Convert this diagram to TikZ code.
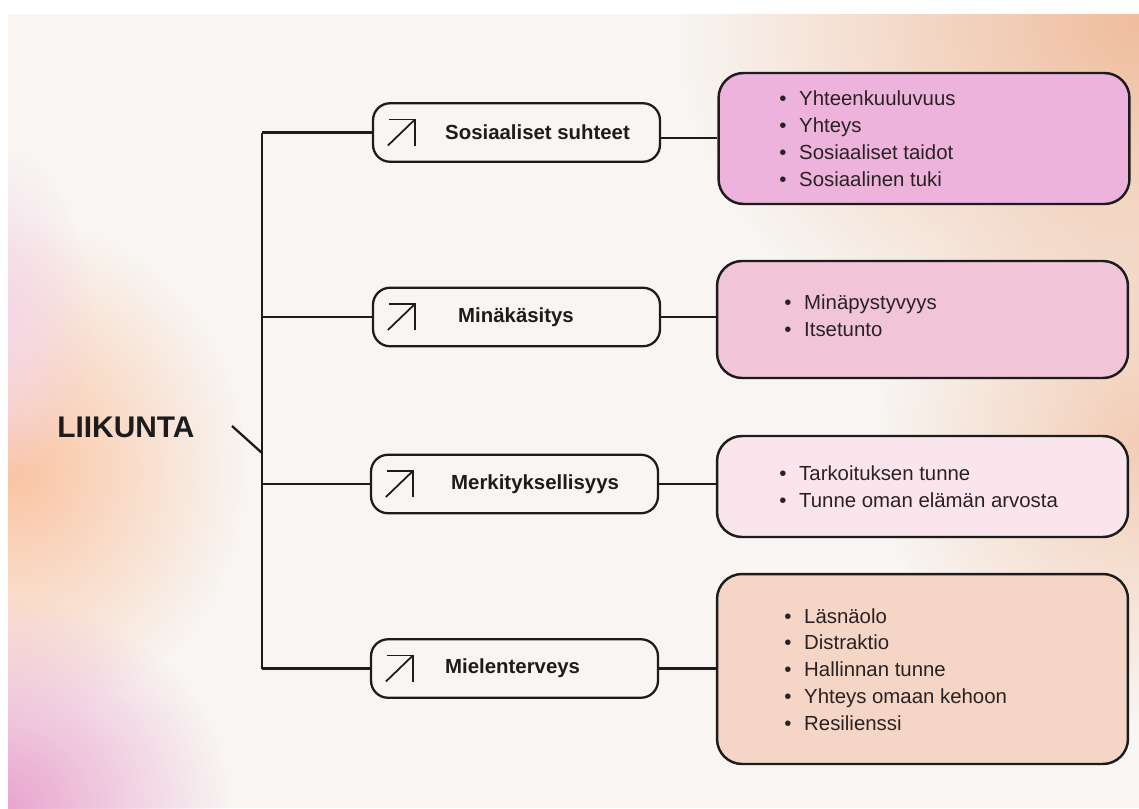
\documentclass[tikz,border=0pt]{standalone}
\usepackage{fontspec}
\setmainfont{Liberation Sans}
\usetikzlibrary{fadings}
\definecolor{ink}{HTML}{1C1C1C}
\definecolor{txt}{HTML}{2A2222}
\definecolor{bgbase}{HTML}{F8F5F2}
\definecolor{peachL}{HTML}{FBC4A2}
\definecolor{pinkBL}{HTML}{E9A3CE}
\definecolor{peachTR}{HTML}{F0BD9E}
\definecolor{peachR}{HTML}{F3CDB6}
\definecolor{rA}{HTML}{EEB3DC}
\definecolor{rB}{HTML}{F1C4D7}
\definecolor{rC}{HTML}{FAE5EC}
\definecolor{rD}{HTML}{F5D5C5}
\tikzfading[name=fadeout, inner color=transparent!0, outer color=transparent!100]
\newcommand\itm{\makebox[11.3pt][l]{•}}
\tikzset{
  midbox/.style={draw=ink, line width=1.3pt, rounded corners=0.34cm,
    minimum width=5.74cm, minimum height=1.17cm, inner sep=0pt},
  rightbox/.style={draw=ink, line width=1.4pt, rounded corners=0.5cm,
    minimum width=8.22cm, inner sep=0pt},
  midlbl/.style={anchor=west, inner sep=0pt, text=ink,
    font=\fontsize{11.6}{13}\selectfont\bfseries},
  bullets/.style={anchor=west, inner sep=0pt, align=left, text=txt,
    font=\fontsize{11.6}{15.3}\selectfont},
  conn/.style={draw=ink, line width=1.3pt},
  icon/.style={draw=ink, line width=1pt}
}
\begin{document}
\begin{tikzpicture}[x=0.02cm,y=-0.02cm]
\useasboundingbox (0,0) rectangle (1139,808);
\fill[white] (0,0) rectangle (1139,808);
% background
\begin{scope}
\clip (8,14) rectangle (1139,808);
\fill[bgbase] (8,14) rectangle (1139,808);
\fill[peachTR, path fading=fadeout] (1139,20) ellipse [x radius=460, y radius=380];
\fill[peachR, path fading=fadeout] (1139,440) ellipse [x radius=260, y radius=280];
\fill[peachL, path fading=fadeout] (15,470) ellipse [x radius=230, y radius=250];
\fill[pinkBL, path fading=fadeout] (0,808) ellipse [x radius=230, y radius=210];
\fill[pinkBL!45, path fading=fadeout] (0,320) ellipse [x radius=90, y radius=170];
\end{scope}

% title
\node[anchor=west, inner sep=0pt, text=ink, font=\fontsize{17}{20}\selectfont\bfseries] (lk) at (57,427) {LIIKUNTA};

% middle boxes
\node[midbox] (m1) at (516.5,132.5) {};
\node[midbox] (m2) at (516.5,317) {};
\node[midbox] (m3) at (514.5,484) {};
\node[midbox] (m4) at (514.5,668.5) {};

\node[midlbl] (t1) at ([shift={(73,0)}]m1.west) {Sosiaaliset suhteet};
\node[midlbl] (t2) at ([shift={(86,0)}]m2.west) {Minäkäsitys};
\node[midlbl] (t3) at ([shift={(81,0)}]m3.west) {Merkityksellisyys};
\node[midlbl] (t4) at ([shift={(75,0)}]m4.west) {Mielenterveys};

% icons
\foreach \m in {m1,m2,m3,m4}{
  \draw[icon] ([shift={(16,13)}]\m.west) -- ([shift={(43,-13)}]\m.west);
  \draw[icon] ([shift={(17,-13)}]\m.west) -- ([shift={(43,-13)}]\m.west) -- ([shift={(43,13)}]\m.west);
}

% right boxes
\node[rightbox, fill=rA, minimum height=2.62cm] (r1) at (924,138.5) {};
\node[rightbox, fill=rB, minimum height=2.34cm] (r2) at (922.5,319.5) {};
\node[rightbox, fill=rC, minimum height=2.02cm] (r3) at (922.5,486.5) {};
\node[rightbox, fill=rD, minimum height=3.80cm] (r4) at (922.5,669) {};

\node[bullets] (b1) at (779,139) {\itm Yhteenkuuluvuus\\\itm Yhteys\\\itm Sosiaaliset taidot\\\itm Sosiaalinen tuki};
\node[bullets] (b2) at (784,316) {\itm Minäpystyvyys\\\itm Itsetunto};
\node[bullets] (b3) at (779,486.5) {\itm Tarkoituksen tunne\\\itm Tunne oman elämän arvosta};
\node[bullets] (b4) at (784,669.5) {\itm Läsnäolo\\\itm Distraktio\\\itm Hallinnan tunne\\\itm Yhteys omaan kehoon\\\itm Resilienssi};

% connectors
\coordinate (tx) at (262,0);
\coordinate (d0) at (232,426);
\coordinate (d1) at (262,453);
\draw[conn] (m1.west -| tx) -- (m4.west -| tx);
\draw[conn] (m1.west) -- (m1.west -| tx);
\draw[conn] (m2.west) -- (m2.west -| tx);
\draw[conn] (m3.west) -- (m3.west -| tx);
\draw[conn] (m4.west) -- (m4.west -| tx);
\draw[conn] (d0) -- (d1);
\draw[conn] ([yshift=-3]m1.east) -- ([yshift=-3]m1.east -| r1.west);
\draw[conn] (m2.east) -- (m2.east -| r2.west);
\draw[conn] (m3.east) -- (m3.east -| r3.west);
\draw[conn] (m4.east) -- (m4.east -| r4.west);
\end{tikzpicture}
\end{document}
